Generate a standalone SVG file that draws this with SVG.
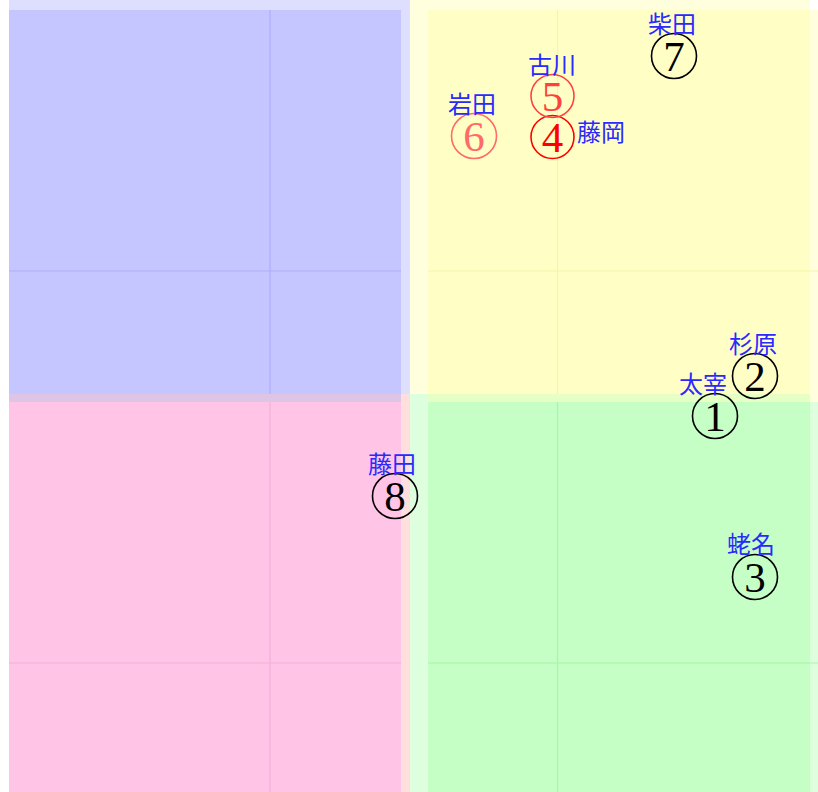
<svg xmlns="http://www.w3.org/2000/svg" width="818" height="792" viewBox="0 0 818 792">
<style>
.lbl{font-family:"Noto Sans CJK JP","Noto Sans CJK SC",sans-serif;font-size:24px;fill:#2a2aff;text-anchor:middle}
.num{font-family:"Liberation Serif","DejaVu Serif",serif;font-size:43px;text-anchor:middle}
.ring{fill:none;stroke-width:1.6}
.grid{stroke-width:1.2}
</style>
<rect width="818" height="792" fill="#ffffff"/>
<g id="quadrants">
  <rect x="410" y="0" width="400" height="394" fill="#ffffde"/>
  <rect x="9" y="0" width="401" height="394" fill="#dedeff"/>
  <rect x="9" y="394" width="401" height="398" fill="#ffdede"/>
  <rect x="410" y="394" width="400" height="398" fill="#deffde"/>
  <rect x="9" y="10" width="392" height="392" fill="#8080ff" fill-opacity="0.26"/>
  <rect x="428" y="10" width="390" height="392" fill="#ffff80" fill-opacity="0.26"/>
  <rect x="9" y="402" width="392" height="390" fill="#ffc4e6"/>
  <rect x="428" y="402" width="390" height="390" fill="#80ff80" fill-opacity="0.26"/>
</g>
<g id="gridlines">
  <line class="grid" x1="270" y1="10" x2="270" y2="394" stroke="#aeaefc"/>
  <line class="grid" x1="9" y1="271" x2="401" y2="271" stroke="#aeaefc"/>
  <line class="grid" x1="557.5" y1="10" x2="557.5" y2="394" stroke="#f4f4ac"/>
  <line class="grid" x1="428" y1="271" x2="818" y2="271" stroke="#f4f4ac"/>
  <line class="grid" x1="270" y1="402" x2="270" y2="792" stroke="#f4b0dc"/>
  <line class="grid" x1="9" y1="663" x2="401" y2="663" stroke="#f4b0dc"/>
  <line class="grid" x1="557.5" y1="402" x2="557.5" y2="792" stroke="#a8f4a8"/>
  <line class="grid" x1="428" y1="663" x2="818" y2="663" stroke="#a8f4a8"/>
</g>
<g id="node1">
  <circle class="ring" cx="715" cy="416" r="22.5" stroke="#000"/>
  <text class="num" x="715" y="431" fill="#000">1</text>
  <text class="lbl" x="703" y="393">太宰</text>
</g>
<g id="node2">
  <circle class="ring" cx="755" cy="376" r="22.5" stroke="#000"/>
  <text class="num" x="755" y="391" fill="#000">2</text>
  <text class="lbl" x="753" y="353">杉原</text>
</g>
<g id="node3">
  <circle class="ring" cx="755" cy="577" r="22.5" stroke="#000"/>
  <text class="num" x="755" y="592" fill="#000">3</text>
  <text class="lbl" x="751" y="553">蛯名</text>
</g>
<g id="node4">
  <circle class="ring" cx="552.5" cy="137" r="21.5" stroke="#ff0000"/>
  <text class="num" x="552.5" y="152" fill="#ff0000">4</text>
  <text class="lbl" x="601" y="141">藤岡</text>
</g>
<g id="node5">
  <circle class="ring" cx="552.5" cy="96" r="21.5" stroke="#ff4040"/>
  <text class="num" x="552.5" y="111" fill="#ff4040">5</text>
  <text class="lbl" x="552" y="74">古川</text>
</g>
<g id="node6">
  <circle class="ring" cx="474" cy="136" r="22.5" stroke="#ff6a6a"/>
  <text class="num" x="474" y="151" fill="#ff6a6a">6</text>
  <text class="lbl" x="472" y="113">岩田</text>
</g>
<g id="node7">
  <circle class="ring" cx="674" cy="56" r="22.5" stroke="#000"/>
  <text class="num" x="674" y="71" fill="#000">7</text>
  <text class="lbl" x="672" y="33">柴田</text>
</g>
<g id="node8">
  <circle class="ring" cx="395" cy="496" r="22.5" stroke="#000"/>
  <text class="num" x="395" y="511" fill="#000">8</text>
  <text class="lbl" x="392" y="473">藤田</text>
</g>
</svg>
